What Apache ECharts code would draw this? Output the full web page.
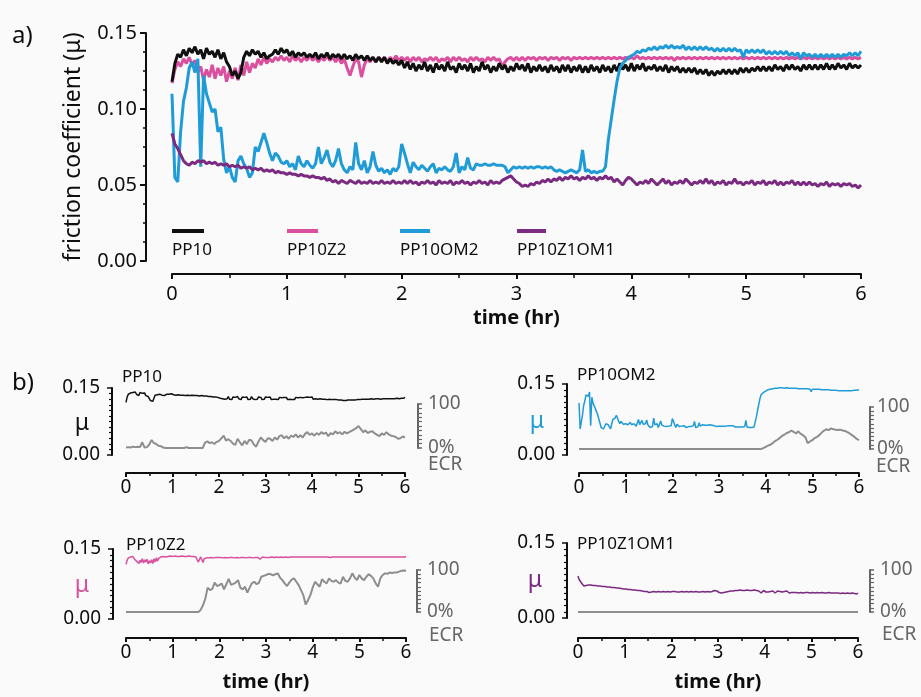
<!DOCTYPE html>
<html><head><meta charset="utf-8">
<script src="https://cdn.jsdelivr.net/npm/echarts@6/dist/echarts.min.js"></script>
<style>html,body{margin:0;padding:0;background:#fafafa}#c{width:921px;height:697px}</style>
</head><body><div id="c"></div>
<script>
// ---------------- DATA ----------------
const MU_STEP_HR = 0.025;   // sampling step of friction-coefficient traces (hr)
const ECR_STEP_HR = 0.05;   // sampling step of ECR traces (hr)
const timeTicks = [0, 1, 2, 3, 4, 5, 6];
const seriesNames = ['PP10', 'PP10Z2', 'PP10OM2', 'PP10Z1OM1'];

const mu_PP10 = [
.118,.130,.136,.134,.139,.135,.140,.137,.141,.136,
.139,.133,.140,.136,.138,.134,.139,.133,.137,.131,
.128,.122,.125,.120,.124,.134,.138,.135,.139,.136,
.138,.134,.137,.133,.135,.136,.139,.136,.140,.137,
.139,.135,.138,.134,.137,.135,.137,.134,.136,.134,
.137,.133,.136,.134,.137,.133,.136,.134,.136,.133,
.136,.133,.135,.132,.136,.133,.135,.132,.135,.132,
.134,.131,.134,.131,.134,.130,.133,.130,.132,.129,
.132,.127,.131,.126,.130,.125,.129,.126,.131,.125,
.129,.124,.130,.126,.129,.125,.131,.126,.128,.124,
.130,.126,.129,.125,.130,.124,.128,.125,.131,.126,
.129,.124,.128,.125,.130,.126,.129,.124,.128,.125,
.130,.126,.129,.125,.130,.124,.128,.125,.129,.125,
.128,.124,.129,.125,.128,.124,.129,.125,.129,.124,
.128,.125,.129,.124,.128,.124,.129,.125,.128,.124,
.129,.125,.128,.124,.129,.125,.130,.126,.129,.125,
.130,.125,.129,.126,.130,.125,.128,.126,.129,.125,
.128,.125,.129,.124,.128,.125,.128,.124,.127,.124,
.127,.124,.127,.123,.126,.123,.126,.122,.125,.122,
.125,.123,.126,.123,.126,.123,.126,.123,.127,.124,
.127,.124,.127,.125,.128,.125,.128,.125,.128,.125,
.129,.126,.128,.125,.129,.126,.129,.126,.128,.125,
.129,.126,.129,.126,.129,.126,.129,.126,.130,.126,
.129,.126,.130,.127,.129,.126,.130,.127,.129,.127,
.129];

const mu_PP10Z2 = [
.117,.126,.131,.128,.133,.130,.134,.129,.132,.124,
.128,.119,.126,.121,.129,.120,.127,.122,.128,.118,
.125,.120,.127,.119,.129,.122,.131,.124,.130,.127,
.133,.129,.134,.130,.133,.131,.134,.132,.135,.132,
.134,.131,.135,.132,.134,.131,.134,.132,.135,.132,
.134,.131,.134,.132,.135,.132,.134,.131,.134,.130,
.133,.127,.122,.128,.133,.131,.121,.129,.133,.131,
.134,.131,.134,.132,.134,.131,.134,.132,.135,.132,
.134,.132,.134,.131,.134,.132,.134,.131,.133,.132,
.134,.132,.134,.131,.133,.132,.134,.131,.134,.132,
.134,.132,.133,.131,.134,.132,.134,.132,.133,.131,
.134,.132,.134,.132,.133,.128,.131,.133,.134,.132,
.134,.132,.134,.132,.134,.133,.134,.132,.134,.133,
.134,.132,.134,.133,.134,.132,.134,.133,.134,.132,
.134,.133,.134,.133,.134,.133,.134,.133,.134,.133,
.134,.133,.134,.133,.134,.133,.134,.133,.134,.133,
.134,.133,.135,.133,.134,.133,.134,.133,.134,.133,
.134,.133,.134,.133,.134,.132,.134,.133,.134,.133,
.134,.133,.134,.133,.134,.133,.134,.133,.134,.133,
.134,.133,.134,.133,.134,.133,.134,.133,.134,.133,
.134,.133,.134,.133,.134,.133,.134,.133,.134,.133,
.134,.133,.134,.133,.134,.133,.134,.133,.134,.133,
.134,.133,.134,.133,.134,.133,.134,.133,.134,.133,
.134,.133,.134,.133,.134,.133,.134,.133,.134,.133,
.134];

const mu_PP10OM2 = [
.110,.055,.052,.085,.105,.114,.127,.131,.124,.133,
.062,.122,.110,.104,.098,.100,.085,.088,.067,.058,
.062,.055,.052,.066,.069,.064,.061,.055,.058,.075,
.072,.078,.084,.078,.071,.066,.071,.069,.065,.064,
.066,.062,.064,.060,.069,.064,.062,.066,.063,.061,
.064,.075,.064,.068,.073,.065,.062,.066,.074,.064,
.060,.058,.062,.060,.078,.064,.060,.066,.058,.062,
.072,.063,.059,.061,.058,.060,.057,.061,.059,.062,
.077,.071,.064,.058,.065,.062,.060,.063,.061,.059,
.062,.064,.058,.061,.060,.062,.060,.059,.062,.071,
.058,.062,.060,.068,.061,.060,.064,.063,.063,.064,
.063,.063,.064,.063,.063,.063,.062,.058,.060,.062,
.061,.062,.061,.062,.061,.062,.061,.062,.062,.061,
.062,.061,.062,.060,.059,.060,.059,.058,.059,.060,
.059,.058,.060,.073,.059,.060,.058,.059,.058,.059,
.059,.062,.080,.093,.106,.118,.127,.130,.132,.134,
.135,.136,.138,.137,.139,.138,.140,.139,.141,.139,
.141,.140,.142,.140,.142,.140,.141,.140,.142,.139,
.141,.139,.141,.139,.141,.139,.141,.139,.140,.138,
.140,.138,.140,.138,.140,.138,.140,.138,.139,.134,
.139,.137,.139,.137,.139,.137,.139,.136,.138,.136,
.138,.136,.138,.136,.138,.135,.137,.135,.137,.133,
.137,.135,.136,.134,.136,.134,.136,.134,.136,.134,
.136,.134,.136,.134,.136,.135,.137,.135,.137,.135,
.138];

const mu_PP10Z1OM1 = [
.084,.077,.074,.070,.066,.064,.063,.065,.064,.066,
.065,.066,.064,.065,.064,.065,.063,.064,.063,.064,
.062,.063,.062,.063,.061,.062,.061,.062,.060,.061,
.060,.061,.059,.060,.059,.060,.058,.059,.058,.058,
.057,.058,.057,.057,.056,.057,.056,.056,.055,.056,
.055,.055,.054,.055,.053,.054,.052,.053,.051,.053,
.052,.051,.053,.052,.051,.053,.051,.052,.051,.053,
.051,.052,.051,.053,.051,.052,.051,.053,.051,.052,
.051,.053,.051,.053,.051,.052,.050,.052,.051,.053,
.051,.052,.050,.053,.051,.052,.051,.053,.050,.052,
.051,.053,.051,.052,.050,.052,.051,.053,.051,.052,
.050,.053,.051,.052,.051,.053,.054,.055,.056,.054,
.052,.051,.049,.050,.049,.051,.050,.052,.051,.053,
.052,.054,.052,.054,.053,.055,.053,.055,.054,.056,
.054,.055,.053,.055,.054,.056,.054,.055,.053,.055,
.054,.056,.054,.055,.052,.054,.052,.050,.053,.055,
.054,.052,.050,.052,.051,.053,.051,.054,.052,.050,
.052,.054,.051,.053,.050,.052,.051,.053,.051,.054,
.052,.050,.052,.051,.053,.051,.054,.051,.053,.050,
.052,.051,.053,.050,.052,.051,.054,.051,.052,.050,
.052,.051,.053,.050,.052,.051,.053,.050,.052,.051,
.053,.050,.052,.050,.052,.051,.053,.050,.052,.050,
.052,.050,.052,.050,.051,.049,.051,.050,.052,.049,
.051,.050,.051,.049,.051,.050,.051,.049,.050,.048,
.050];

// ECR (%) traces
const ecr_PP10 = [
1,2,1,3,2,3,2,13,1,2,
8,18,11,9,5,4,1,0,0,0,
0,0,0,0,0,0,2,0,0,0,
0,0,0,0,12,15,11,13,9,14,
16,22,28,17,20,16,10,7,21,13,
6,16,9,19,17,8,3,15,24,18,
14,22,21,16,24,19,27,29,22,27,
21,28,25,31,24,29,24,32,36,30,
33,28,34,30,36,32,35,27,34,31,
38,33,36,31,37,33,36,39,42,45,
50,43,36,40,34,37,38,33,30,27,
33,30,36,31,28,27,25,21,22,26,
24];

const ecr_PP10OM2 = [
0,0,0,0,0,0,0,0,0,0,
0,0,0,0,0,0,0,0,0,0,
0,0,0,0,0,0,0,0,0,0,
0,0,0,0,0,0,0,0,0,0,
0,0,0,0,0,0,0,0,0,0,
0,0,0,0,0,0,0,0,0,0,
0,0,0,0,0,0,0,0,0,0,
0,0,0,0,0,0,0,0,0,2,
5,8,10,14,19,22,26,31,34,38,
40,44,41,37,42,36,33,28,14,18,
21,26,29,33,39,44,47,45,49,47,
46,45,46,44,43,40,37,33,29,24,
21];

const ecr_PP10Z2 = [
0,0,0,0,0,0,0,0,0,0,
0,0,0,0,0,0,0,0,0,0,
0,0,0,0,0,0,0,0,0,0,
0,0,5,16,32,58,52,55,70,62,
64,68,54,66,79,65,67,70,76,58,
54,60,46,58,69,72,66,70,84,86,
88,91,90,87,90,92,82,76,68,62,
70,77,80,72,64,52,40,18,28,40,
58,72,66,60,78,72,68,80,74,72,
76,70,68,84,74,72,80,92,82,76,
88,80,76,84,90,86,80,68,60,80,
88,92,91,94,93,94,94,96,98,99,
98];

const ecr_PP10Z1OM1 = [
0,0,0,0,0,0,0,0,0,0,
0,0,0,0,0,0,0,0,0,0,
0,0,0,0,0,0,0,0,0,0,
0,0,0,0,0,0,0,0,0,0,
0,0,0,0,0,0,0,0,0,0,
0,0,0,0,0,0,0,0,0,0,
0,0,0,0,0,0,0,0,0,0,
0,0,0,0,0,0,0,0,0,0,
0,0,0,0,0,0,0,0,0,0,
0,0,0,0,0,0,0,0,0,0,
0,0,0,0,0,0,0,0,0,0,
0,0,0,0,0,0,0,0,0,0,
0];

// ---------------- BUILD ----------------
const muTime = mu_PP10.map((_, i) => +(i * MU_STEP_HR).toFixed(3));
const ecrTime = ecr_PP10.map((_, i) => +(i * ECR_STEP_HR).toFixed(3));
const pairs = (t, v) => v.map((y, i) => [t[i], y]);

const muData = { PP10: mu_PP10, PP10Z2: mu_PP10Z2, PP10OM2: mu_PP10OM2, PP10Z1OM1: mu_PP10Z1OM1 };
const ecrData = { PP10: ecr_PP10, PP10Z2: ecr_PP10Z2, PP10OM2: ecr_PP10OM2, PP10Z1OM1: ecr_PP10Z1OM1 };

const FONT = "'Noto Sans', 'DejaVu Sans', sans-serif";
const AX = '#0e0e0e';
const GRAY_TXT = '#666666';
const ECR_COL = '#8e8e8e';
const COL = { PP10: '#101010', PP10Z2: '#da4f9e', PP10OM2: '#1f9bd7', PP10Z1OM1: '#7a2a80' };

const grids = [{ left: 172, top: 33, width: 689, height: 228 }];
const xAxes = [{
  gridIndex: 0, type: 'value', min: timeTicks[0], max: timeTicks[timeTicks.length - 1], interval: 1, offset: 13,
  axisLine: { show: true, onZero: false, lineStyle: { color: AX, width: 2 } },
  axisTick: { show: true, length: 5, lineStyle: { color: AX, width: 2 } },
  minorTick: { show: true, splitNumber: 2, length: 4, lineStyle: { color: AX, width: 1.5 } },
  axisLabel: { fontSize: 20, color: AX, margin: 10, fontFamily: FONT },
  splitLine: { show: false },
  name: 'time (hr)', nameLocation: 'middle', nameGap: 34,
  nameTextStyle: { fontSize: 20, fontWeight: 'bold', color: AX, fontFamily: FONT }
}];
const yAxes = [{
  gridIndex: 0, type: 'value', min: 0, max: 0.15, interval: 0.05, offset: 26,
  axisLine: { show: true, onZero: false, lineStyle: { color: AX, width: 2 } },
  axisTick: { show: true, length: 6, lineStyle: { color: AX, width: 2 } },
  minorTick: { show: true, splitNumber: 4, length: 3, lineStyle: { color: AX, width: 1.5 } },
  axisLabel: { fontSize: 20, color: AX, margin: 9, fontFamily: FONT, formatter: v => v.toFixed(2) },
  splitLine: { show: false },
  name: 'friction coefficient (μ)', nameLocation: 'middle', nameGap: 61,
  nameTextStyle: { fontSize: 23, color: AX, fontFamily: FONT }
}];

const series = [];
['PP10Z2', 'PP10', 'PP10OM2', 'PP10Z1OM1'].forEach(n => {
  series.push({ name: n, type: 'line', xAxisIndex: 0, yAxisIndex: 0, data: pairs(muTime, muData[n]),
    showSymbol: false, symbol: 'none', lineStyle: { color: COL[n], width: 3 }, itemStyle: { color: COL[n] } });
});

// bottom panel layout
const panels = [
  { name: 'PP10',      mu: { left: 126, top: 388, width: 279, height: 67 }, ecr: { left: 126, top: 404, width: 279, height: 44 }, yOff: 14, xOff: 18, rOff: 13, rMargin: 10, muLbl: [82, 423], title: [122, 377], ecrLbl: [428, 465], xName: false, muCol: '#111' },
  { name: 'PP10OM2',   mu: { left: 579, top: 384, width: 280, height: 71 }, ecr: { left: 579, top: 407, width: 280, height: 42 }, yOff: 12, xOff: 18, rOff: 11, rMargin: 7,  muLbl: [537, 421], title: [577, 375], ecrLbl: [876, 467], xName: false, muCol: COL.PP10OM2 },
  { name: 'PP10Z2',    mu: { left: 126, top: 549, width: 280, height: 70 }, ecr: { left: 126, top: 570, width: 280, height: 42 }, yOff: 13, xOff: 19, rOff: 11, rMargin: 10, muLbl: [82, 585], title: [126, 545], ecrLbl: [429, 636], xName: true, muCol: COL.PP10Z2 },
  { name: 'PP10Z1OM1', mu: { left: 578, top: 543, width: 280, height: 75 }, ecr: { left: 578, top: 570, width: 280, height: 42 }, yOff: 11, xOff: 20, rOff: 12, rMargin: 10, muLbl: [535, 580], title: [577, 544], ecrLbl: [882, 635], xName: true, muCol: COL.PP10Z1OM1 }
];

const graphics = [];
const txt = (x, y, text, size, color, align, weight) => ({
  type: 'text', x: x, y: y, silent: true,
  style: { text: text, fill: color, font: (weight || 'normal') + ' ' + size + 'px ' + FONT,
           align: align || 'left', verticalAlign: 'middle', textAlign: align || 'left', textVerticalAlign: 'middle' }
});

panels.forEach(p => {
  const gi = grids.length;
  grids.push(p.mu);
  grids.push(p.ecr);
  xAxes.push({
    gridIndex: gi, type: 'value', min: 0, max: 6, interval: 1, offset: p.xOff,
    axisLine: { show: true, onZero: false, lineStyle: { color: AX, width: 2 } },
    axisTick: { show: true, length: 4, lineStyle: { color: AX, width: 2 } },
    minorTick: { show: true, splitNumber: 2, length: 3, lineStyle: { color: AX, width: 1.5 } },
    axisLabel: { fontSize: 19, color: AX, margin: 5, fontFamily: FONT },
    splitLine: { show: false },
    name: p.xName ? 'time (hr)' : '', nameLocation: 'middle', nameGap: 34,
    nameTextStyle: { fontSize: 20, fontWeight: 'bold', color: AX, fontFamily: FONT }
  });
  xAxes.push({ gridIndex: gi + 1, type: 'value', min: 0, max: 6, show: false });
  yAxes.push({
    gridIndex: gi, type: 'value', min: 0, max: 0.15, interval: 0.15, offset: p.yOff,
    axisLine: { show: true, onZero: false, lineStyle: { color: AX, width: 2 } },
    axisTick: { show: true, length: 5, lineStyle: { color: AX, width: 1.5 } },
    minorTick: { show: true, splitNumber: 12, length: 3, lineStyle: { color: AX, width: 1.2 } },
    axisLabel: { fontSize: 19, color: AX, margin: 12, fontFamily: FONT, formatter: v => v.toFixed(2) },
    splitLine: { show: false }
  });
  yAxes.push({
    gridIndex: gi + 1, type: 'value', position: 'right', min: 0, max: 100, interval: 100, offset: p.rOff,
    axisLine: { show: true, onZero: false, lineStyle: { color: GRAY_TXT, width: 2 } },
    axisTick: { show: true, length: 4, lineStyle: { color: GRAY_TXT, width: 1.5 } },
    minorTick: { show: true, splitNumber: 10, length: 4, lineStyle: { color: GRAY_TXT, width: 1.2 } },
    axisLabel: { fontSize: 19, color: GRAY_TXT, margin: p.rMargin, fontFamily: FONT, formatter: v => (v === 0 ? '0%' : String(v)) },
    splitLine: { show: false }
  });
  series.push({ name: p.name + ' μ', type: 'line', xAxisIndex: gi, yAxisIndex: gi, data: pairs(muTime, muData[p.name]),
    showSymbol: false, symbol: 'none', lineStyle: { color: p.muCol, width: 1.5 } });
  series.push({ name: p.name + ' ECR', type: 'line', xAxisIndex: gi + 1, yAxisIndex: gi + 1, data: pairs(ecrTime, ecrData[p.name]),
    showSymbol: false, symbol: 'none', lineStyle: { color: ECR_COL, width: 2 } });
  graphics.push(txt(p.title[0], p.title[1], p.name, 17, AX));
  graphics.push(txt(p.muLbl[0], p.muLbl[1], 'μ', 23, p.muCol, 'center'));
  graphics.push(txt(p.ecrLbl[0], p.ecrLbl[1], 'ECR', 19, GRAY_TXT));
});

// panel letters
graphics.push(txt(12, 36, 'a)', 24, AX));
graphics.push(txt(12, 383, 'b)', 24, AX));

// top legend (swatch above label)
const legendPos = [[172, 204], [287, 318], [400, 430], [517, 546]];
seriesNames.forEach((n, i) => {
  graphics.push({ type: 'line', silent: true, shape: { x1: legendPos[i][0], y1: 231, x2: legendPos[i][1], y2: 231 },
    style: { stroke: COL[n], lineWidth: 4 } });
  graphics.push(txt(legendPos[i][0], 250, n, 17, AX));
});

const chart = echarts.init(document.getElementById('c'), null, { renderer: 'canvas' });
chart.setOption({
  backgroundColor: '#fafafa',
  animation: false,
  grid: grids,
  xAxis: xAxes,
  yAxis: yAxes,
  series: series,
  graphic: graphics
});
</script></body></html>
